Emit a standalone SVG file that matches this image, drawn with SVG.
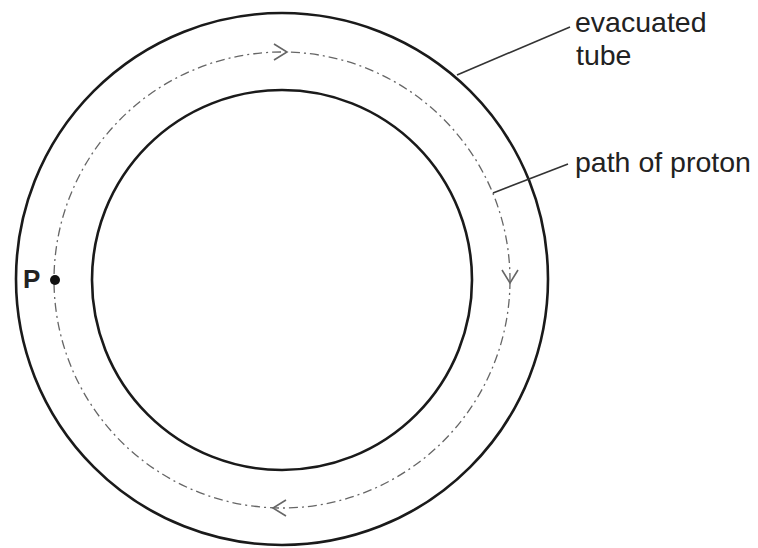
<svg xmlns="http://www.w3.org/2000/svg" width="758" height="548" viewBox="0 0 758 548">
<style>
.ring{fill:none;stroke:#1a1a1a;stroke-width:2.6}
.path{fill:none;stroke:#666;stroke-width:1.3;stroke-dasharray:9 4 2 4}
.arrow{fill:none;stroke:#666;stroke-width:1.6}
.lead{fill:none;stroke:#333;stroke-width:1.6}
.lbl{font-family:"Liberation Sans",Arial,sans-serif;font-size:28.5px;fill:#222}
</style>
<defs>
<path id="chev" d="M-13,-8 L0,0 L-13,8"/>
</defs>
<rect width="758" height="548" fill="#fff"/>
<g id="outer-tube"><circle class="ring" cx="282" cy="279" r="266"/></g>
<g id="inner-tube"><circle class="ring" cx="282" cy="280" r="190"/></g>
<g id="proton-path">
<circle class="path" cx="282" cy="280" r="228"/>
<use href="#chev" class="arrow" transform="translate(287,52)"/>
<use href="#chev" class="arrow" transform="translate(510,283) rotate(90)"/>
<use href="#chev" class="arrow" transform="translate(273,508) rotate(180)"/>
</g>
<g id="point-P">
<circle cx="55" cy="280" r="5" fill="#111"/>
<text x="23" y="288" style="font-family:'Liberation Sans',Arial,sans-serif;font-size:26px;font-weight:bold;fill:#222">P</text>
</g>
<g id="connectors">
<line class="lead" x1="457" y1="75" x2="570" y2="27"/>
<line class="lead" x1="493" y1="193" x2="568" y2="164"/>
</g>
<g id="label-tube">
<text class="lbl" x="575" y="32">evacuated</text>
<text class="lbl" x="576" y="65">tube</text>
</g>
<g id="label-path">
<text class="lbl" x="575" y="172">path of proton</text>
</g>
</svg>
